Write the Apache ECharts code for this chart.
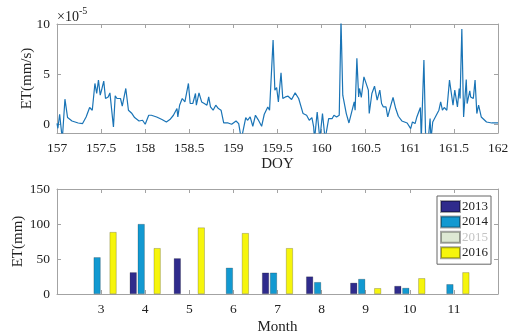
<!DOCTYPE html>
<html><head><meta charset="utf-8">
<script src="https://cdn.jsdelivr.net/npm/echarts@6/dist/echarts.min.js"></script>
<style>html,body{margin:0;padding:0;background:#fff}#c{width:514px;height:336px}</style>
</head><body><div id="c"></div>
<script>
// ---- top panel: ET time series (units of 1e-5 mm/s) ----
const doy = [157.00,157.01,157.03,157.05,157.06,157.09,157.12,157.17,157.24,157.29,157.33,157.37,157.39,157.40,157.43,157.45,157.47,157.49,157.51,157.53,157.55,157.58,157.60,157.62,157.64,157.66,157.68,157.70,157.72,157.74,157.78,157.81,157.85,157.88,157.93,157.97,158.00,158.04,158.07,158.13,158.19,158.24,158.28,158.32,158.36,158.37,158.39,158.42,158.45,158.47,158.49,158.51,158.54,158.57,158.58,158.61,158.64,158.67,158.70,158.72,158.74,158.77,158.80,158.83,158.86,158.89,158.94,158.98,159.03,159.06,159.09,159.14,159.16,159.19,159.22,159.25,159.28,159.32,159.35,159.37,159.39,159.41,159.45,159.47,159.49,159.51,159.54,159.56,159.59,159.62,159.66,159.70,159.74,159.76,159.79,159.83,159.86,159.89,159.91,159.92,159.95,159.98,160.01,160.04,160.08,160.12,160.14,160.17,160.20,160.22,160.24,160.28,160.31,160.33,160.37,160.38,160.40,160.42,160.43,160.45,160.48,160.50,160.53,160.54,160.57,160.60,160.63,160.66,160.68,160.70,160.73,160.75,160.78,160.81,160.84,160.87,160.91,160.97,161.01,161.03,161.06,161.08,161.10,161.12,161.13,161.16,161.18,161.21,161.23,161.24,161.26,161.30,161.33,161.35,161.37,161.39,161.42,161.45,161.47,161.49,161.51,161.54,161.56,161.57,161.59,161.61,161.64,161.65,161.68,161.69,161.72,161.74,161.76,161.78,161.81,161.83,161.87,161.93,162.00];
const et = [0.1,-0.4,1.0,1.0,-1.5,2.5,0.67,0.33,0.13,0.07,0.73,1.67,1.73,1.4,4.07,3.07,4.4,2.9,3.57,4.3,2.57,2.73,3.13,3.07,-0.27,2.83,2.57,2.73,2.57,1.8,3.57,1.4,1.07,0.67,0.33,0.4,0,0.9,0.9,0.73,0.47,0.23,0.47,0.9,1.57,0.73,1.9,2.57,2.23,2.4,4.07,2.07,2.07,3.07,1.9,3.13,2.23,2.07,1.9,2.73,1.73,1.4,1.9,1.57,1.4,0.13,0.13,0,0.33,0.07,-1.5,0.67,0.4,0.73,-0.2,0.9,0.47,-0.2,1.0,0.9,1.73,1.4,8.4,3.4,3.67,2.23,5.13,2.57,2.73,2.8,2.47,3.13,2.57,2.4,1.07,0.9,0.4,0.67,-0.27,-1.5,1.23,-1.5,1.07,-1.5,0.57,0.57,0.9,0.73,0.9,10.4,2.9,1.07,0.13,0.23,2.23,1.4,6.57,2.73,3.57,2.67,4.73,4.9,3.4,1.07,3.07,3.8,2.4,3.4,2.07,1.73,1.73,0.73,1.73,2.67,1.57,0.8,0.33,0.13,-0.43,0.23,0.07,0.73,0.57,1.67,-1.5,6.4,-1.5,-1.5,0.57,-1.5,0.23,0.9,1.4,2.23,1.4,1.67,1.4,4.4,4.33,1.9,3.4,1.73,3.57,2.57,9.5,0.73,4.47,2.07,3.33,2.73,2.57,4.4,1.07,1.9,0.73,0.57,0.23,0.13,0.13];
const topYTicks = [0, 5, 10];

// ---- bottom panel: monthly ET (mm) ----
const months = ['2','3','4','5','6','7','8','9','10','11','12'];
const years = ['2013','2014','2015','2016'];
const et2013 = [null,null,31,51,null,30.5,25,16,11.5,null,null];
const et2014 = [null,52.5,100,null,37.5,30.5,17,21.5,8.7,14,null];
const et2015 = [null,null,null,null,null,null,null,null,null,null,null];
const et2016 = [null,88.5,65.5,95,87,65.5,null,8.3,22.5,31,null];
const barColors = ['#2f2b8c','#1299d1','#dde8d3','#f6f50c'];

const FONT = 'Liberation Serif';
const AX = '#a3a3a3';
const TXT = '#222';

const chart = echarts.init(document.getElementById('c'), null, {renderer:'canvas'});
const axLine = {show:true, onZero:false, lineStyle:{color:AX, width:1}};
const tickIn = {show:true, inside:true, length:4, lineStyle:{color:AX}};
const lbl = {color:TXT, fontFamily:FONT, fontSize:13.5};
const nameStyle = {color:TXT, fontFamily:FONT, fontSize:15};

const series = [{
  type:'line', xAxisIndex:0, yAxisIndex:0,
  data: doy.map((d,i)=>[d, et[i]]),
  showSymbol:false, symbol:'none', clip:true,
  lineStyle:{color:'#1a74b6', width:1.2}, animation:false
}];
const yearData = [et2013, et2014, et2015, et2016];
years.forEach((y,i)=>{
  series.push({
    type:'bar', name:y, xAxisIndex:2, yAxisIndex:2,
    data: yearData[i], barWidth:7, barGap:'14%',
    itemStyle:{color:barColors[i], borderColor:'rgba(0,0,0,0.35)', borderWidth:0.6},
    animation:false
  });
});

chart.setOption({
  animation:false,
  backgroundColor:'#fff',
  grid:[
    {left:57, right:16, top:24, height:109, containLabel:false},
    {left:57, right:16, top:189, height:108, containLabel:false}
  ],
  xAxis:[
    {gridIndex:0, type:'value', min:157, max:162, interval:0.5, position:'bottom',
     axisLine:axLine, axisTick:tickIn, splitLine:{show:false},
     axisLabel:Object.assign({margin:8, formatter:v=>String(v)}, lbl),
     name:'DOY', nameLocation:'middle', nameGap:24, nameMoveOverlap:false,
     nameTextStyle:nameStyle},
    {gridIndex:0, type:'value', min:157, max:162, interval:0.5, position:'top',
     axisLine:axLine, axisTick:tickIn, axisLabel:{show:false}, splitLine:{show:false}},
    {gridIndex:1, type:'category', data:months, boundaryGap:false, position:'bottom',
     axisLine:axLine, axisTick:Object.assign({alignWithLabel:true}, tickIn), splitLine:{show:false},
     axisLabel:Object.assign({margin:8, interval:0, formatter:v=>(v==='2'||v==='12')?'':v}, lbl),
     name:'Month', nameLocation:'middle', nameGap:26, nameMoveOverlap:false,
     nameTextStyle:nameStyle},
    {gridIndex:1, type:'category', data:months, boundaryGap:false, position:'top',
     axisLine:axLine, axisTick:tickIn, axisLabel:{show:false}, splitLine:{show:false}}
  ],
  yAxis:[
    {gridIndex:0, type:'value', min:-0.87, max:10, position:'left',
     axisLine:axLine, axisTick:Object.assign({customValues:topYTicks}, tickIn), splitLine:{show:false},
     axisLabel:Object.assign({margin:7, customValues:topYTicks}, lbl),
     name:'ET(mm/s)', nameLocation:'middle', nameRotate:90, nameGap:22, nameMoveOverlap:false,
     nameTextStyle:nameStyle},
    {gridIndex:0, type:'value', min:-0.87, max:10, position:'right',
     axisLine:axLine, axisTick:Object.assign({customValues:topYTicks}, tickIn),
     axisLabel:{show:false}, splitLine:{show:false}},
    {gridIndex:1, type:'value', min:0, max:150, interval:50, position:'left',
     axisLine:axLine, axisTick:tickIn, splitLine:{show:false},
     axisLabel:Object.assign({margin:7}, lbl),
     name:'ET(mm)', nameLocation:'middle', nameRotate:90, nameGap:31, nameMoveOverlap:false,
     nameTextStyle:nameStyle},
    {gridIndex:1, type:'value', min:0, max:150, interval:50, position:'right',
     axisLine:axLine, axisTick:tickIn, axisLabel:{show:false}, splitLine:{show:false}}
  ],
  legend:{
    orient:'vertical', left:437, top:196, itemWidth:19, itemHeight:11, itemGap:2.4,
    padding:[4,3,5,3], borderColor:'#666', borderWidth:1, backgroundColor:'#fff',
    icon:'rect', selectedMode:false,
    textStyle:{color:TXT, fontFamily:FONT, fontSize:13, lineHeight:12, padding:[0,0,0,-3]},
    data:[
      {name:'2013'},{name:'2014'},
      {name:'2015', textStyle:{color:'#c4c4c4'}},
      {name:'2016'}
    ]
  },
  graphic:[{
    type:'text', left:57, top:6,
    style:{text:'{a|×10}{b|-5}', rich:{
      a:{fontFamily:FONT, fontSize:14, fill:TXT, verticalAlign:'bottom'},
      b:{fontFamily:FONT, fontSize:10, fill:TXT, verticalAlign:'top', padding:[0,0,8,0]}
    }}
  }],
  series: series
});
</script></body></html>
